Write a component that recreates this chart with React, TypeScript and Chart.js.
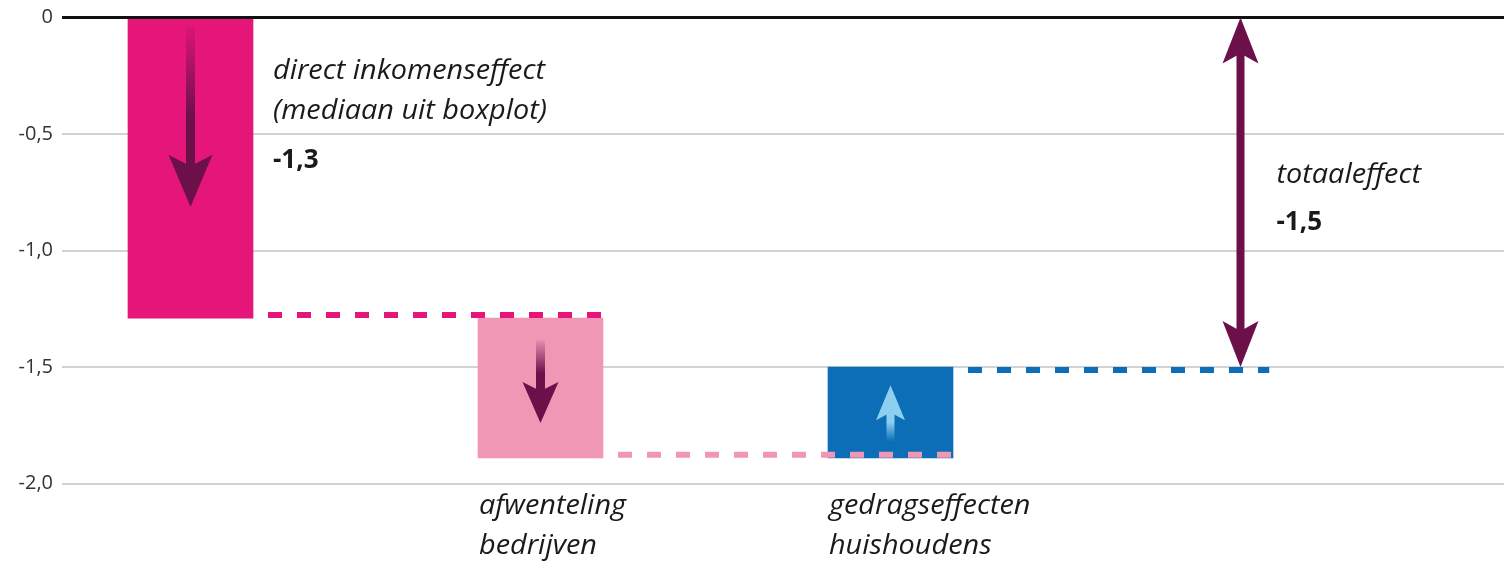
import React, { useEffect, useRef } from 'react';
import { Chart, registerables } from 'chart.js';

Chart.register(...registerables);

// ---------- data ----------
const categoryLines: string[][] = [
  ['direct inkomenseffect', '(mediaan uit boxplot)'],
  ['afwenteling', 'bedrijven'],
  ['gedragseffecten', 'huishoudens'],
];
const effects: number[] = [-1.29, -0.6, 0.39];
const effectValueLabels: string[] = ['-1,3', '', ''];
const totalEffect = -1.5;
const totalLines: string[] = ['totaaleffect'];
const totalValueLabel = '-1,5';
const yMin = -2.0;
const yMax = 0;
const yStep = 0.5;

// ---------- styles ----------
const barColors = ['#E5157A', '#F197B6', '#0B6EB6'];
const connectorColors = ['#E5157A', '#F197B6', '#0B6EB6'];
const arrowColors = ['#6B1049', '#6B1049', '#8DCFF0'];
const totalArrowColor = '#6B1049';
const arrowFrom = [0.03, 0.16, 0.2];
const arrowTo = [0.63, 0.75, 0.8];
const arrowHeadLen = [52, 41, 35];
const arrowHeadW = [44, 36, 29];
const arrowShaftW = [9, 9, 8];

// cumulative waterfall positions
const starts: number[] = [];
const ends: number[] = [];
effects.reduce((acc, e) => {
  starts.push(acc);
  ends.push(acc + e);
  return acc + e;
}, 0);

function rgba(hex: string, a: number) {
  const h = hex.replace('#', '');
  const r = parseInt(h.slice(0, 2), 16);
  const g = parseInt(h.slice(2, 4), 16);
  const b = parseInt(h.slice(4, 6), 16);
  return `rgba(${r},${g},${b},${a})`;
}

function drawHead(
  ctx: CanvasRenderingContext2D,
  x: number,
  tipY: number,
  dir: number,
  headLen: number,
  headW: number,
  color: string
) {
  const baseY = tipY - dir * headLen;
  const notchY = baseY + dir * headLen * 0.22;
  ctx.fillStyle = color;
  ctx.beginPath();
  ctx.moveTo(x, tipY);
  ctx.lineTo(x - headW / 2, baseY);
  ctx.lineTo(x, notchY);
  ctx.lineTo(x + headW / 2, baseY);
  ctx.closePath();
  ctx.fill();
  return notchY;
}

function drawArrow(
  ctx: CanvasRenderingContext2D,
  x: number,
  fromY: number,
  toY: number,
  shaftW: number,
  headLen: number,
  headW: number,
  color: string
) {
  const dir = Math.sign(toY - fromY);
  const baseY = toY - dir * headLen;
  const notchY = baseY + dir * headLen * 0.22;
  const g = ctx.createLinearGradient(0, fromY, 0, notchY);
  g.addColorStop(0, rgba(color, 0.08));
  g.addColorStop(0.65, rgba(color, 1));
  g.addColorStop(1, rgba(color, 1));
  ctx.fillStyle = g;
  const top = Math.min(fromY, notchY);
  ctx.fillRect(x - shaftW / 2, top, shaftW, Math.abs(notchY - fromY) + 1);
  drawHead(ctx, x, toY, dir, headLen, headW, color);
}

const ITALIC = 'italic 28px "Open Sans"';
const BOLD = 'bold 26px "Open Sans"';
const TEXT_COLOR = '#1a1a1a';

function italicText(ctx: CanvasRenderingContext2D, t: string, x: number, y: number, k: number) {
  ctx.save();
  ctx.font = ITALIC;
  ctx.fillStyle = TEXT_COLOR;
  ctx.textAlign = 'left';
  ctx.textBaseline = 'alphabetic';
  ctx.translate(x, y);
  ctx.scale(k, 1);
  ctx.fillText(t, 0, 0);
  ctx.restore();
}

function boldText(ctx: CanvasRenderingContext2D, t: string, x: number, y: number) {
  ctx.save();
  ctx.font = BOLD;
  ctx.fillStyle = TEXT_COLOR;
  ctx.textAlign = 'left';
  ctx.textBaseline = 'alphabetic';
  ctx.fillText(t, x, y);
  ctx.restore();
}

const overlayPlugin = {
  id: 'waterfallOverlay',
  afterDatasetsDraw(chart: any) {
    const ctx: CanvasRenderingContext2D = chart.ctx;
    const area = chart.chartArea;
    const xs = chart.scales.x;
    const ys = chart.scales.y;
    const meta = chart.getDatasetMeta(0);
    const n = effects.length;
    const barW = meta.data[0] ? meta.data[0].width : 125;
    const totalX = xs.getPixelForValue(n);

    ctx.save();
    // zero line on top
    ctx.strokeStyle = '#111';
    ctx.lineWidth = 3;
    ctx.beginPath();
    const y0 = ys.getPixelForValue(0);
    ctx.moveTo(area.left, y0);
    ctx.lineTo(area.right, y0);
    ctx.stroke();

    // connectors
    const lw = 6;
    for (let i = 0; i < n; i++) {
      const cx = xs.getPixelForValue(i);
      const py = ys.getPixelForValue(ends[i]);
      const goesDown = ends[i] < starts[i];
      const cy = goesDown ? py - lw / 2 : py + lw / 2;
      const xEnd = i < n - 1 ? xs.getPixelForValue(i + 1) + barW / 2 : totalX + barW * 0.23;
      const xStart = cx + barW / 2 - 14;
      ctx.strokeStyle = connectorColors[i];
      ctx.lineWidth = lw;
      ctx.setLineDash([14, 15]);
      ctx.lineDashOffset = 0;
      ctx.beginPath();
      ctx.moveTo(xStart, cy);
      ctx.lineTo(xEnd, cy);
      ctx.stroke();
    }
    ctx.setLineDash([]);

    // arrows inside bars
    for (let i = 0; i < n; i++) {
      const cx = xs.getPixelForValue(i);
      const ps = ys.getPixelForValue(starts[i]);
      const pe = ys.getPixelForValue(ends[i]);
      const h = pe - ps;
      drawArrow(
        ctx,
        cx,
        ps + h * arrowFrom[i],
        ps + h * arrowTo[i],
        arrowShaftW[i],
        arrowHeadLen[i],
        arrowHeadW[i],
        arrowColors[i]
      );
    }

    // total double arrow
    const tTop = ys.getPixelForValue(0);
    const tBot = ys.getPixelForValue(totalEffect);
    const mid = (tTop + tBot) / 2;
    const n1 = drawHead(ctx, totalX, tTop, -1, 46, 36, totalArrowColor);
    const n2 = drawHead(ctx, totalX, tBot, 1, 46, 36, totalArrowColor);
    ctx.fillStyle = totalArrowColor;
    ctx.fillRect(totalX - 4, n1 - 1, 8, n2 - n1 + 2);

    // texts
    ctx.font = ITALIC;
    const k = 272 / ctx.measureText(categoryLines[0][0]).width;
    const x1 = xs.getPixelForValue(0) + barW / 2 + 20;
    categoryLines[0].forEach((t, j) => italicText(ctx, t, x1, area.top + 61 + j * 40, k));
    if (effectValueLabels[0]) boldText(ctx, effectValueLabels[0], x1, area.top + 150);
    for (let i = 1; i < n; i++) {
      const lx = xs.getPixelForValue(i) - barW / 2 + 1;
      categoryLines[i].forEach((t, j) => italicText(ctx, t, lx, area.bottom + 30 + j * 40, k));
      if (effectValueLabels[i]) boldText(ctx, effectValueLabels[i], lx, area.bottom + 110);
    }
    const tx = totalX + 36;
    totalLines.forEach((t, j) => italicText(ctx, t, tx, mid - 9 + j * 40, k));
    boldText(ctx, totalValueLabel, tx, mid + 38 + (totalLines.length - 1) * 40);

    ctx.restore();
  },
};

export default function App() {
  const ref = useRef<HTMLCanvasElement | null>(null);

  useEffect(() => {
    if (!ref.current) return;
    const chart = new Chart(ref.current, {
      type: 'bar',
      data: {
        datasets: [
          {
            data: effects.map((_, i) => ({ x: i, y: [starts[i], ends[i]] })) as any,
            backgroundColor: barColors,
            borderWidth: 0,
            barThickness: 125,
          },
        ],
      },
      options: {
        animation: false,
        responsive: true,
        maintainAspectRatio: false,
        devicePixelRatio: 1,
        layout: { padding: { top: 17.5, bottom: 78.5, left: 0, right: 0 } },
        plugins: { legend: { display: false }, tooltip: { enabled: false } },
        scales: {
          x: {
            type: 'linear',
            display: false,
            offset: false,
            min: -(190.5 - 62) / 350,
            max: (1504 - 190.5) / 350,
          },
          y: {
            min: yMin,
            max: yMax,
            afterFit: (scale: any) => {
              scale.width = 62;
              scale.paddingTop = 0;
              scale.paddingBottom = 0;
            },
            border: { display: false },
            grid: {
              drawTicks: false,
              color: (c: any) => (c.tick && c.tick.value === 0 ? '#111' : '#d2d2d2'),
              lineWidth: (c: any) => (c.tick && c.tick.value === 0 ? 3 : 2),
            },
            ticks: {
              stepSize: yStep,
              padding: 9,
              color: '#333',
              font: { family: '"Open Sans"', size: 20 },
              callback: (v: any) => (Number(v) === 0 ? '0' : Number(v).toFixed(1).replace('.', ',')),
            },
          },
        },
      },
      plugins: [overlayPlugin],
    });
    return () => chart.destroy();
  }, []);

  return (
    <div style={{ position: 'absolute', left: 0, top: 0, width: 1504, height: 562, background: '#fff' }}>
      <canvas ref={ref} />
    </div>
  );
}
